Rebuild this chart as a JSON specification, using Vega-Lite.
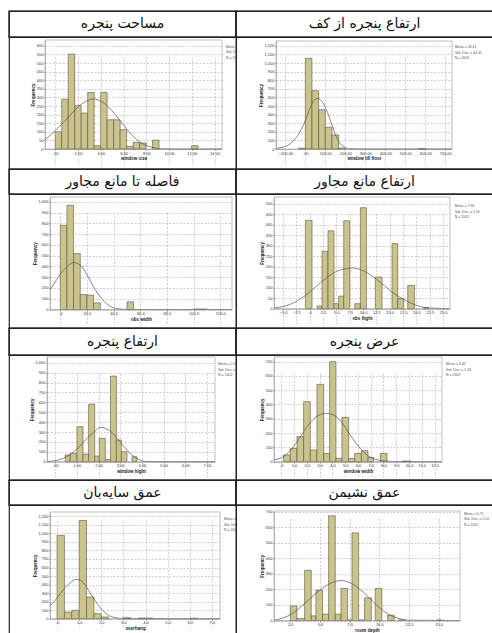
{
"$schema":"https://vega.github.io/schema/vega-lite/v6.json",
"padding":{"left":7,"top":9,"right":0,"bottom":0},
"background":"white",
"columns":2,
"spacing":0,
"bounds":"flush",
"config":{
 "view":{"stroke":"#222","strokeWidth":1.2},
 "concat":{"spacing":0},
 "axis":{"labelFontSize":4,"titleFontSize":4.5,"titleFontWeight":"bold","labelColor":"#333","titleColor":"#222","tickSize":1.5,"tickColor":"#777","tickWidth":0.5,"domainColor":"#999","domainWidth":0.6,"grid":true,"gridColor":"#b0b0b0","gridDash":[2,1.5],"gridWidth":0.6,"labelPadding":0.5,"titlePadding":0.5,"labelFlush":false,"labelOverlap":false,"labelFont":"Liberation Sans","titleFont":"Liberation Sans"}
},
"concat":[
  {"width":227,"height":26,"layer":[
   {"data":{"values":[{"t":"مساحت پنجره"}]},"mark":{"type":"text","fontSize":14,"font":"DejaVu Sans","color":"#111"},"encoding":{"text":{"field":"t"}}},
   {"data":{"values":[{}]},"mark":{"type":"rect","filled":false,"color":"#222","strokeWidth":1.2},"encoding":{"x":{"value":0},"x2":{"value":"width"},"y":{"value":0},"y2":{"value":"height"}}}]},
  {"width":257,"height":26,"layer":[
   {"data":{"values":[{"t":"ارتفاع پنجره از کف"}]},"mark":{"type":"text","fontSize":14,"font":"DejaVu Sans","color":"#111"},"encoding":{"text":{"field":"t"}}},
   {"data":{"values":[{}]},"mark":{"type":"rect","filled":false,"color":"#222","strokeWidth":1.2},"encoding":{"x":{"value":0},"x2":{"value":"width"},"y":{"value":0},"y2":{"value":"height"}}}]},
  {"width":227,"height":132,"layer":[
   {"data":{"values":[{"lo":0,"hi":0.57,"n":100},{"lo":0.57,"hi":1.14,"n":290},{"lo":1.14,"hi":1.71,"n":552},{"lo":1.71,"hi":2.28,"n":252},{"lo":2.28,"hi":2.85,"n":209},{"lo":2.85,"hi":3.42,"n":329},{"lo":3.42,"hi":3.99,"n":19},{"lo":3.99,"hi":4.56,"n":329},{"lo":4.56,"hi":5.13,"n":170},{"lo":5.13,"hi":5.7,"n":170},{"lo":5.7,"hi":6.27,"n":112},{"lo":6.27,"hi":6.84,"n":15},{"lo":6.84,"hi":7.41,"n":39},{"lo":7.41,"hi":7.98,"n":35},{"lo":8.55,"hi":9.12,"n":52},{"lo":11.97,"hi":12.54,"n":19}]},
    "mark":{"type":"rect","fill":"#cbc38e","stroke":"#5a5535","strokeWidth":0.6},
    "encoding":{
     "x":{"field":"lo","type":"quantitative","scale":{"domain":[-0.9,14.65],"range":[36,213],"nice":false,"zero":false},"axis":{"title":"window size","offset":-20,"values":[0,2,4,6,8,10,12,14],"labelExpr":"datum.value == 0 ? '.00' : format(datum.value, '.2f')"}},
     "x2":{"field":"hi"},
     "y":{"field":"n","type":"quantitative","scale":{"domain":[0,634],"range":[112,3],"nice":false},"axis":{"title":"Frequency","offset":-36,"values":[0,50,100,150,200,250,300,350,400,450,500,550,600],"format":",d"}},
     "y2":{"datum":0}}},
   {"data":{"values":[{"x":-0.9,"y":54},{"x":0,"y":107},{"x":0.88,"y":165},{"x":1.76,"y":229},{"x":2.64,"y":275},{"x":3.37,"y":291},{"x":4.1,"y":275},{"x":4.98,"y":223},{"x":5.86,"y":151},{"x":6.73,"y":81},{"x":7.61,"y":33},{"x":8.49,"y":10},{"x":9.37,"y":1},{"x":10.54,"y":0},{"x":14.65,"y":0}]},
    "mark":{"type":"line","color":"#555","strokeWidth":0.7,"interpolate":"monotone"},
    "encoding":{"x":{"field":"x","type":"quantitative","axis":{"title":"window size","offset":-20,"values":[0,2,4,6,8,10,12,14],"labelExpr":"datum.value == 0 ? '.00' : format(datum.value, '.2f')"}},"y":{"field":"y","type":"quantitative","axis":{"title":"Frequency","offset":-36,"values":[0,50,100,150,200,250,300,350,400,450,500,550,600],"format":",d"}}}},
   {"data":{"values":[{}]},"mark":{"type":"rect","filled":false,"color":"#999","strokeWidth":0.6},
    "encoding":{"x":{"datum":-0.9,"axis":{"title":"window size","offset":-20,"values":[0,2,4,6,8,10,12,14],"labelExpr":"datum.value == 0 ? '.00' : format(datum.value, '.2f')"}},"x2":{"datum":14.65},"y":{"datum":0,"axis":{"title":"Frequency","offset":-36,"values":[0,50,100,150,200,250,300,350,400,450,500,550,600],"format":",d"}},"y2":{"datum":634}}},
   {"data":{"values":[{"s":"Mean = 3.37\nStd. Dev. = 2.31\nN = 2002"}]},"mark":{"type":"text","fontSize":3.5,"align":"left","baseline":"top","lineBreak":"\n","clip":true,"color":"#555","font":"Liberation Sans"},
    "encoding":{"x":{"datum":15.0,"axis":{"title":"window size","offset":-20,"values":[0,2,4,6,8,10,12,14],"labelExpr":"datum.value == 0 ? '.00' : format(datum.value, '.2f')"}},"y":{"datum":605,"axis":{"title":"Frequency","offset":-36,"values":[0,50,100,150,200,250,300,350,400,450,500,550,600],"format":",d"}},"text":{"field":"s"}}}
  ]},
  {"width":257,"height":132,"layer":[
   {"data":{"values":[{"lo":-33.3,"hi":0,"n":10},{"lo":0,"hi":33.3,"n":1054},{"lo":33.3,"hi":66.7,"n":678},{"lo":66.7,"hi":100,"n":457},{"lo":100,"hi":133.3,"n":252},{"lo":133.3,"hi":166.7,"n":163},{"lo":166.7,"hi":200,"n":10},{"lo":566.7,"hi":600,"n":5}]},
    "mark":{"type":"rect","fill":"#cbc38e","stroke":"#5a5535","strokeWidth":0.6},
    "encoding":{
     "x":{"field":"lo","type":"quantitative","scale":{"domain":[-146.5,733.5],"range":[40,216],"nice":false,"zero":false},"axis":{"title":"window till floor","offset":-20,"values":[-100,0,100,200,300,400,500,600,700],"labelExpr":"datum.value == 0 ? '.00' : format(datum.value, '.2f')"}},
     "x2":{"field":"hi"},
     "y":{"field":"n","type":"quantitative","scale":{"domain":[0,1256],"range":[112,4],"nice":false},"axis":{"title":"Frequency","offset":-40,"values":[0,100,200,300,400,500,600,700,800,900,1000,1100,1200],"format":",d"}},
     "y2":{"datum":0}}},
   {"data":{"values":[{"x":-146,"y":8},{"x":-133,"y":12},{"x":-100,"y":27},{"x":-67,"y":78},{"x":-33,"y":174},{"x":0,"y":329},{"x":25,"y":484},{"x":58,"y":589},{"x":92,"y":523},{"x":117,"y":388},{"x":142,"y":221},{"x":167,"y":85},{"x":192,"y":27},{"x":217,"y":4},{"x":267,"y":0},{"x":733,"y":0}]},
    "mark":{"type":"line","color":"#555","strokeWidth":0.7,"interpolate":"monotone"},
    "encoding":{"x":{"field":"x","type":"quantitative","axis":{"title":"window till floor","offset":-20,"values":[-100,0,100,200,300,400,500,600,700],"labelExpr":"datum.value == 0 ? '.00' : format(datum.value, '.2f')"}},"y":{"field":"y","type":"quantitative","axis":{"title":"Frequency","offset":-40,"values":[0,100,200,300,400,500,600,700,800,900,1000,1100,1200],"format":",d"}}}},
   {"data":{"values":[{}]},"mark":{"type":"rect","filled":false,"color":"#999","strokeWidth":0.6},
    "encoding":{"x":{"datum":-146.5,"axis":{"title":"window till floor","offset":-20,"values":[-100,0,100,200,300,400,500,600,700],"labelExpr":"datum.value == 0 ? '.00' : format(datum.value, '.2f')"}},"x2":{"datum":733.5},"y":{"datum":0,"axis":{"title":"Frequency","offset":-40,"values":[0,100,200,300,400,500,600,700,800,900,1000,1100,1200],"format":",d"}},"y2":{"datum":1256}}},
   {"data":{"values":[{"s":"Mean = 58.41\nStd. Dev. = 44.32\nN = 2002"}]},"mark":{"type":"text","fontSize":3.5,"align":"left","baseline":"top","lineBreak":"\n","clip":true,"color":"#555","font":"Liberation Sans"},
    "encoding":{"x":{"datum":748,"axis":{"title":"window till floor","offset":-20,"values":[-100,0,100,200,300,400,500,600,700],"labelExpr":"datum.value == 0 ? '.00' : format(datum.value, '.2f')"}},"y":{"datum":1209,"axis":{"title":"Frequency","offset":-40,"values":[0,100,200,300,400,500,600,700,800,900,1000,1100,1200],"format":",d"}},"text":{"field":"s"}}}
  ]},
  {"width":227,"height":25,"layer":[
   {"data":{"values":[{"t":"فاصله تا مانع مجاور"}]},"mark":{"type":"text","fontSize":14,"font":"DejaVu Sans","color":"#111"},"encoding":{"text":{"field":"t"}}},
   {"data":{"values":[{}]},"mark":{"type":"rect","filled":false,"color":"#222","strokeWidth":1.2},"encoding":{"x":{"value":0},"x2":{"value":"width"},"y":{"value":0},"y2":{"value":"height"}}}]},
  {"width":257,"height":25,"layer":[
   {"data":{"values":[{"t":"ارتفاع مانع مجاور"}]},"mark":{"type":"text","fontSize":14,"font":"DejaVu Sans","color":"#111"},"encoding":{"text":{"field":"t"}}},
   {"data":{"values":[{}]},"mark":{"type":"rect","filled":false,"color":"#222","strokeWidth":1.2},"encoding":{"x":{"value":0},"x2":{"value":"width"},"y":{"value":0},"y2":{"value":"height"}}}]},
  {"width":227,"height":134,"layer":[
   {"data":{"values":[{"lo":0,"hi":5,"n":783},{"lo":5,"hi":10,"n":969},{"lo":10,"hi":15,"n":520},{"lo":15,"hi":20,"n":139},{"lo":20,"hi":25,"n":133},{"lo":25,"hi":30,"n":62},{"lo":50,"hi":55,"n":71},{"lo":100,"hi":105,"n":5},{"lo":105,"hi":110,"n":5}]},
    "mark":{"type":"rect","fill":"#cbc38e","stroke":"#5a5535","strokeWidth":0.6},
    "encoding":{
     "x":{"field":"lo","type":"quantitative","scale":{"domain":[-7.7,128.8],"range":[41,223],"nice":false,"zero":false},"axis":{"title":"obs width","offset":-18.5,"values":[0,20,40,60,80,100,120],"labelExpr":"datum.value == 0 ? '.0' : format(datum.value, '.1f')"}},
     "x2":{"field":"hi"},
     "y":{"field":"n","type":"quantitative","scale":{"domain":[0,1046],"range":[115.5,3],"nice":false},"axis":{"title":"Frequency","offset":-41,"values":[0,100,200,300,400,500,600,700,800,900,1000],"format":",d"}},
     "y2":{"datum":0}}},
   {"data":{"values":[{"x":-7.7,"y":180},{"x":-3.75,"y":257},{"x":1.25,"y":350},{"x":6.25,"y":412},{"x":10,"y":437},{"x":15,"y":412},{"x":20,"y":325},{"x":25,"y":211},{"x":30,"y":118},{"x":36.25,"y":40},{"x":42.5,"y":9},{"x":48.75,"y":1},{"x":60,"y":0},{"x":128.8,"y":0}]},
    "mark":{"type":"line","color":"#555","strokeWidth":0.7,"interpolate":"monotone"},
    "encoding":{"x":{"field":"x","type":"quantitative","axis":{"title":"obs width","offset":-18.5,"values":[0,20,40,60,80,100,120],"labelExpr":"datum.value == 0 ? '.0' : format(datum.value, '.1f')"}},"y":{"field":"y","type":"quantitative","axis":{"title":"Frequency","offset":-41,"values":[0,100,200,300,400,500,600,700,800,900,1000],"format":",d"}}}},
   {"data":{"values":[{}]},"mark":{"type":"rect","filled":false,"color":"#999","strokeWidth":0.6},
    "encoding":{"x":{"datum":-7.7,"axis":{"title":"obs width","offset":-18.5,"values":[0,20,40,60,80,100,120],"labelExpr":"datum.value == 0 ? '.0' : format(datum.value, '.1f')"}},"x2":{"datum":128.8},"y":{"datum":0,"axis":{"title":"Frequency","offset":-41,"values":[0,100,200,300,400,500,600,700,800,900,1000],"format":",d"}},"y2":{"datum":1046}}}
  ]},
  {"width":257,"height":134,"layer":[
   {"data":{"values":[{"lo":-0.81,"hi":0.44,"n":421},{"lo":1.38,"hi":2.31,"n":13},{"lo":2.31,"hi":3.44,"n":273},{"lo":3.44,"hi":4.56,"n":371},{"lo":4.56,"hi":5.44,"n":24},{"lo":5.44,"hi":6.38,"n":60},{"lo":6.38,"hi":7.5,"n":419},{"lo":8.44,"hi":9.5,"n":24},{"lo":9.5,"hi":10.63,"n":481},{"lo":12.31,"hi":13.56,"n":151},{"lo":15.44,"hi":16.5,"n":310},{"lo":16.5,"hi":17.63,"n":48},{"lo":18.38,"hi":19.63,"n":111},{"lo":21.4,"hi":22.3,"n":5}]},
    "mark":{"type":"rect","fill":"#cbc38e","stroke":"#5a5535","strokeWidth":0.6},
    "encoding":{
     "x":{"field":"lo","type":"quantitative","scale":{"domain":[-6.69,26.3],"range":[38,214],"nice":false,"zero":false},"axis":{"title":"obs hight","offset":-19.3,"values":[-5,-2.5,0,2.5,5,7.5,10,12.5,15,17.5,20,22.5,25],"labelExpr":"datum.value == 0 ? '.0' : format(datum.value, '.1f')"}},
     "x2":{"field":"hi"},
     "y":{"field":"n","type":"quantitative","scale":{"domain":[0,532],"range":[114.7,3],"nice":false},"axis":{"title":"Frequency","offset":-38,"values":[0,50,100,150,200,250,300,350,400,450,500],"format":",d"}},
     "y2":{"datum":0}}},
   {"data":{"values":[{"x":-6.69,"y":3},{"x":-4.56,"y":13},{"x":-2.69,"y":32},{"x":-0.81,"y":63},{"x":1.06,"y":103},{"x":2.94,"y":143},{"x":4.81,"y":175},{"x":6.69,"y":190},{"x":7.94,"y":194},{"x":9.81,"y":183},{"x":11.69,"y":156},{"x":13.56,"y":119},{"x":15.44,"y":79},{"x":17.31,"y":48},{"x":19.19,"y":24},{"x":21.06,"y":8},{"x":22.94,"y":3},{"x":26.3,"y":0}]},
    "mark":{"type":"line","color":"#555","strokeWidth":0.7,"interpolate":"monotone"},
    "encoding":{"x":{"field":"x","type":"quantitative","axis":{"title":"obs hight","offset":-19.3,"values":[-5,-2.5,0,2.5,5,7.5,10,12.5,15,17.5,20,22.5,25],"labelExpr":"datum.value == 0 ? '.0' : format(datum.value, '.1f')"}},"y":{"field":"y","type":"quantitative","axis":{"title":"Frequency","offset":-38,"values":[0,50,100,150,200,250,300,350,400,450,500],"format":",d"}}}},
   {"data":{"values":[{}]},"mark":{"type":"rect","filled":false,"color":"#999","strokeWidth":0.6},
    "encoding":{"x":{"datum":-6.69,"axis":{"title":"obs hight","offset":-19.3,"values":[-5,-2.5,0,2.5,5,7.5,10,12.5,15,17.5,20,22.5,25],"labelExpr":"datum.value == 0 ? '.0' : format(datum.value, '.1f')"}},"x2":{"datum":26.3},"y":{"datum":0,"axis":{"title":"Frequency","offset":-38,"values":[0,50,100,150,200,250,300,350,400,450,500],"format":",d"}},"y2":{"datum":532}}},
   {"data":{"values":[{"s":"Mean = 7.94\nStd. Dev. = 5.16\nN = 2002"}]},"mark":{"type":"text","fontSize":3.5,"align":"left","baseline":"top","lineBreak":"\n","clip":true,"color":"#555","font":"Liberation Sans"},
    "encoding":{"x":{"datum":27.2,"axis":{"title":"obs hight","offset":-19.3,"values":[-5,-2.5,0,2.5,5,7.5,10,12.5,15,17.5,20,22.5,25],"labelExpr":"datum.value == 0 ? '.0' : format(datum.value, '.1f')"}},"y":{"datum":498,"axis":{"title":"Frequency","offset":-38,"values":[0,50,100,150,200,250,300,350,400,450,500],"format":",d"}},"text":{"field":"s"}}}
  ]},
  {"width":227,"height":27,"layer":[
   {"data":{"values":[{"t":"ارتفاع پنجره"}]},"mark":{"type":"text","fontSize":14,"font":"DejaVu Sans","color":"#111"},"encoding":{"text":{"field":"t"}}},
   {"data":{"values":[{}]},"mark":{"type":"rect","filled":false,"color":"#222","strokeWidth":1.2},"encoding":{"x":{"value":0},"x2":{"value":"width"},"y":{"value":0},"y2":{"value":"height"}}}]},
  {"width":257,"height":27,"layer":[
   {"data":{"values":[{"t":"عرض پنجره"}]},"mark":{"type":"text","fontSize":14,"font":"DejaVu Sans","color":"#111"},"encoding":{"text":{"field":"t"}}},
   {"data":{"values":[{}]},"mark":{"type":"rect","filled":false,"color":"#222","strokeWidth":1.2},"encoding":{"x":{"value":0},"x2":{"value":"width"},"y":{"value":0},"y2":{"value":"height"}}}]},
  {"width":227,"height":125,"layer":[
   {"data":{"values":[{"lo":0.46,"hi":0.69,"n":67},{"lo":0.69,"hi":1.0,"n":84},{"lo":1.0,"hi":1.28,"n":354},{"lo":1.28,"hi":1.54,"n":77},{"lo":1.54,"hi":1.82,"n":582},{"lo":1.82,"hi":2.03,"n":57},{"lo":2.03,"hi":2.31,"n":236},{"lo":2.31,"hi":2.55,"n":24},{"lo":2.55,"hi":2.82,"n":865},{"lo":2.82,"hi":3.05,"n":219},{"lo":3.05,"hi":3.31,"n":101},{"lo":3.54,"hi":3.77,"n":50}]},
    "mark":{"type":"rect","fill":"#cbc38e","stroke":"#5a5535","strokeWidth":0.6},
    "encoding":{
     "x":{"field":"lo","type":"quantitative","scale":{"domain":[-0.38,7.37],"range":[38,206],"nice":false,"zero":false},"axis":{"title":"window hight","offset":-18.3,"values":[0,1,2,3,4,5,6,7],"labelExpr":"datum.value == 0 ? '.00' : format(datum.value, '.2f')"}},
     "x2":{"field":"hi"},
     "y":{"field":"n","type":"quantitative","scale":{"domain":[0,1058],"range":[106.7,2],"nice":false},"axis":{"title":"Frequency","offset":-38,"values":[0,100,200,300,400,500,600,700,800,900,1000],"format":",d"}},
     "y2":{"datum":0}}},
   {"data":{"values":[{"x":-0.38,"y":2},{"x":0.15,"y":17},{"x":0.62,"y":64},{"x":1.08,"y":145},{"x":1.54,"y":253},{"x":1.85,"y":313},{"x":2.08,"y":347},{"x":2.31,"y":337},{"x":2.62,"y":293},{"x":2.92,"y":219},{"x":3.23,"y":135},{"x":3.54,"y":67},{"x":3.85,"y":24},{"x":4.15,"y":3},{"x":4.6,"y":0},{"x":7.37,"y":0}]},
    "mark":{"type":"line","color":"#555","strokeWidth":0.7,"interpolate":"monotone"},
    "encoding":{"x":{"field":"x","type":"quantitative","axis":{"title":"window hight","offset":-18.3,"values":[0,1,2,3,4,5,6,7],"labelExpr":"datum.value == 0 ? '.00' : format(datum.value, '.2f')"}},"y":{"field":"y","type":"quantitative","axis":{"title":"Frequency","offset":-38,"values":[0,100,200,300,400,500,600,700,800,900,1000],"format":",d"}}}},
   {"data":{"values":[{}]},"mark":{"type":"rect","filled":false,"color":"#999","strokeWidth":0.6},
    "encoding":{"x":{"datum":-0.38,"axis":{"title":"window hight","offset":-18.3,"values":[0,1,2,3,4,5,6,7],"labelExpr":"datum.value == 0 ? '.00' : format(datum.value, '.2f')"}},"x2":{"datum":7.37},"y":{"datum":0,"axis":{"title":"Frequency","offset":-38,"values":[0,100,200,300,400,500,600,700,800,900,1000],"format":",d"}},"y2":{"datum":1058}}},
   {"data":{"values":[{"s":"Mean = 2.08\nStd. Dev. = .62\nN = 2002"}]},"mark":{"type":"text","fontSize":3.5,"align":"left","baseline":"top","lineBreak":"\n","clip":true,"color":"#555","font":"Liberation Sans"},
    "encoding":{"x":{"datum":7.51,"axis":{"title":"window hight","offset":-18.3,"values":[0,1,2,3,4,5,6,7],"labelExpr":"datum.value == 0 ? '.00' : format(datum.value, '.2f')"}},"y":{"datum":1007,"axis":{"title":"Frequency","offset":-38,"values":[0,100,200,300,400,500,600,700,800,900,1000],"format":",d"}},"text":{"field":"s"}}}
  ]},
  {"width":257,"height":125,"layer":[
   {"data":{"values":[{"lo":0.18,"hi":0.7,"n":47},{"lo":0.7,"hi":1.23,"n":93},{"lo":1.23,"hi":1.75,"n":175},{"lo":1.75,"hi":2.27,"n":420},{"lo":2.27,"hi":2.79,"n":82},{"lo":2.79,"hi":3.32,"n":541},{"lo":3.32,"hi":3.79,"n":58},{"lo":3.79,"hi":4.28,"n":699},{"lo":4.28,"hi":4.75,"n":23},{"lo":4.75,"hi":5.27,"n":310},{"lo":5.27,"hi":5.74,"n":23},{"lo":5.74,"hi":6.27,"n":58},{"lo":6.27,"hi":6.79,"n":77},{"lo":6.79,"hi":7.23,"n":30},{"lo":7.75,"hi":8.28,"n":58},{"lo":9.45,"hi":10.2,"n":5}]},
    "mark":{"type":"rect","fill":"#cbc38e","stroke":"#5a5535","strokeWidth":0.6},
    "encoding":{
     "x":{"field":"lo","type":"quantitative","scale":{"domain":[-0.57,12.58],"range":[38,206],"nice":false,"zero":false},"axis":{"title":"window width","offset":-18.3,"values":[0,1,2,3,4,5,6,7,8,9,10,11,12],"labelExpr":"datum.value == 0 ? '.0' : format(datum.value, '.1f')"}},
     "x2":{"field":"hi"},
     "y":{"field":"n","type":"quantitative","scale":{"domain":[0,732],"range":[106.7,2],"nice":false},"axis":{"title":"Frequency","offset":-38,"values":[0,100,200,300,400,500,600,700],"format":",d"}},
     "y2":{"datum":0}}},
   {"data":{"values":[{"x":-0.57,"y":12},{"x":0.05,"y":30},{"x":0.7,"y":77},{"x":1.36,"y":156},{"x":2.01,"y":245},{"x":2.66,"y":308},{"x":3.45,"y":338},{"x":4.1,"y":326},{"x":4.75,"y":273},{"x":5.4,"y":186},{"x":6.06,"y":105},{"x":6.71,"y":47},{"x":7.36,"y":16},{"x":8.15,"y":5},{"x":8.93,"y":1},{"x":12.58,"y":0}]},
    "mark":{"type":"line","color":"#555","strokeWidth":0.7,"interpolate":"monotone"},
    "encoding":{"x":{"field":"x","type":"quantitative","axis":{"title":"window width","offset":-18.3,"values":[0,1,2,3,4,5,6,7,8,9,10,11,12],"labelExpr":"datum.value == 0 ? '.0' : format(datum.value, '.1f')"}},"y":{"field":"y","type":"quantitative","axis":{"title":"Frequency","offset":-38,"values":[0,100,200,300,400,500,600,700],"format":",d"}}}},
   {"data":{"values":[{}]},"mark":{"type":"rect","filled":false,"color":"#999","strokeWidth":0.6},
    "encoding":{"x":{"datum":-0.57,"axis":{"title":"window width","offset":-18.3,"values":[0,1,2,3,4,5,6,7,8,9,10,11,12],"labelExpr":"datum.value == 0 ? '.0' : format(datum.value, '.1f')"}},"x2":{"datum":12.58},"y":{"datum":0,"axis":{"title":"Frequency","offset":-38,"values":[0,100,200,300,400,500,600,700],"format":",d"}},"y2":{"datum":732}}},
   {"data":{"values":[{"s":"Mean = 3.45\nStd. Dev. = 1.53\nN = 2002"}]},"mark":{"type":"text","fontSize":3.5,"align":"left","baseline":"top","lineBreak":"\n","clip":true,"color":"#555","font":"Liberation Sans"},
    "encoding":{"x":{"datum":12.9,"axis":{"title":"window width","offset":-18.3,"values":[0,1,2,3,4,5,6,7,8,9,10,11,12],"labelExpr":"datum.value == 0 ? '.0' : format(datum.value, '.1f')"}},"y":{"datum":697,"axis":{"title":"Frequency","offset":-38,"values":[0,100,200,300,400,500,600,700],"format":",d"}},"text":{"field":"s"}}}
  ]},
  {"width":227,"height":25,"layer":[
   {"data":{"values":[{"t":"عمق سایه‌بان"}]},"mark":{"type":"text","fontSize":14,"font":"DejaVu Sans","color":"#111"},"encoding":{"text":{"field":"t"}}},
   {"data":{"values":[{}]},"mark":{"type":"rect","filled":false,"color":"#222","strokeWidth":1.2},"encoding":{"x":{"value":0},"x2":{"value":"width"},"y":{"value":0},"y2":{"value":"height"}}}]},
  {"width":257,"height":25,"layer":[
   {"data":{"values":[{"t":"عمق نشیمن"}]},"mark":{"type":"text","fontSize":14,"font":"DejaVu Sans","color":"#111"},"encoding":{"text":{"field":"t"}}},
   {"data":{"values":[{}]},"mark":{"type":"rect","filled":false,"color":"#222","strokeWidth":1.2},"encoding":{"x":{"value":0},"x2":{"value":"width"},"y":{"value":0},"y2":{"value":"height"}}}]},
  {"width":227,"height":129,"layer":[
   {"data":{"values":[{"lo":0,"hi":0.333,"n":977},{"lo":0.333,"hi":0.667,"n":78},{"lo":0.667,"hi":1.0,"n":98},{"lo":1.0,"hi":1.333,"n":1152},{"lo":1.333,"hi":1.667,"n":254},{"lo":1.667,"hi":2.0,"n":59},{"lo":2.0,"hi":2.333,"n":20},{"lo":3.0,"hi":3.333,"n":12},{"lo":3.667,"hi":4.0,"n":8},{"lo":4.0,"hi":4.333,"n":8},{"lo":6.0,"hi":6.333,"n":6}]},
    "mark":{"type":"rect","fill":"#cbc38e","stroke":"#5a5535","strokeWidth":0.6},
    "encoding":{
     "x":{"field":"lo","type":"quantitative","scale":{"domain":[-0.32,7.37],"range":[41,211],"nice":false,"zero":false},"axis":{"title":"overhang","offset":-15.3,"values":[0,1,2,3,4,5,6,7],"labelExpr":"datum.value == 0 ? '.0' : format(datum.value, '.1f')"}},
     "x2":{"field":"hi"},
     "y":{"field":"n","type":"quantitative","scale":{"domain":[0,1251],"range":[113.7,7],"nice":false},"axis":{"title":"Frequency","offset":-41,"values":[0,100,200,300,400,500,600,700,800,900,1000,1100,1200],"format":",d"}},
     "y2":{"datum":0}}},
   {"data":{"values":[{"x":-0.32,"y":150},{"x":0,"y":242},{"x":0.3,"y":344},{"x":0.6,"y":422},{"x":0.86,"y":461},{"x":1.13,"y":437},{"x":1.43,"y":332},{"x":1.73,"y":207},{"x":2.03,"y":105},{"x":2.33,"y":39},{"x":2.64,"y":12},{"x":3.09,"y":1},{"x":4,"y":0},{"x":7.37,"y":0}]},
    "mark":{"type":"line","color":"#555","strokeWidth":0.7,"interpolate":"monotone"},
    "encoding":{"x":{"field":"x","type":"quantitative","axis":{"title":"overhang","offset":-15.3,"values":[0,1,2,3,4,5,6,7],"labelExpr":"datum.value == 0 ? '.0' : format(datum.value, '.1f')"}},"y":{"field":"y","type":"quantitative","axis":{"title":"Frequency","offset":-41,"values":[0,100,200,300,400,500,600,700,800,900,1000,1100,1200],"format":",d"}}}},
   {"data":{"values":[{}]},"mark":{"type":"rect","filled":false,"color":"#999","strokeWidth":0.6},
    "encoding":{"x":{"datum":-0.32,"axis":{"title":"overhang","offset":-15.3,"values":[0,1,2,3,4,5,6,7],"labelExpr":"datum.value == 0 ? '.0' : format(datum.value, '.1f')"}},"x2":{"datum":7.37},"y":{"datum":0,"axis":{"title":"Frequency","offset":-41,"values":[0,100,200,300,400,500,600,700,800,900,1000,1100,1200],"format":",d"}},"y2":{"datum":1251}}},
   {"data":{"values":[{"s":"Mean = .86\nStd. Dev. = .58\nN = 2002"}]},"mark":{"type":"text","fontSize":3.5,"align":"left","baseline":"top","lineBreak":"\n","clip":true,"color":"#555","font":"Liberation Sans"},
    "encoding":{"x":{"datum":7.55,"axis":{"title":"overhang","offset":-15.3,"values":[0,1,2,3,4,5,6,7],"labelExpr":"datum.value == 0 ? '.0' : format(datum.value, '.1f')"}},"y":{"datum":1192,"axis":{"title":"Frequency","offset":-41,"values":[0,100,200,300,400,500,600,700,800,900,1000,1100,1200],"format":",d"}},"text":{"field":"s"}}}
  ]},
  {"width":257,"height":129,"layer":[
   {"data":{"values":[{"lo":2.5,"hi":3.06,"n":94},{"lo":3.06,"hi":3.71,"n":13},{"lo":3.71,"hi":4.27,"n":324},{"lo":4.27,"hi":4.66,"n":30},{"lo":4.66,"hi":5.22,"n":195},{"lo":5.22,"hi":5.73,"n":41},{"lo":5.73,"hi":6.29,"n":674},{"lo":6.29,"hi":6.77,"n":41},{"lo":6.77,"hi":7.33,"n":206},{"lo":7.33,"hi":7.7,"n":4},{"lo":7.7,"hi":8.26,"n":564},{"lo":8.26,"hi":8.76,"n":4},{"lo":8.76,"hi":9.33,"n":146},{"lo":9.66,"hi":10.22,"n":206},{"lo":10.7,"hi":11.26,"n":34},{"lo":11.63,"hi":12.19,"n":4},{"lo":14.86,"hi":15.28,"n":4}]},
    "mark":{"type":"rect","fill":"#cbc38e","stroke":"#5a5535","strokeWidth":0.6},
    "encoding":{
     "x":{"field":"lo","type":"quantitative","scale":{"domain":[1.13,16.8],"range":[38,224],"nice":false,"zero":false},"axis":{"title":"room depth","offset":-13.5,"values":[2.5,5,7.5,10,12.5,15],"format":".1f"}},
     "x2":{"field":"hi"},
     "y":{"field":"n","type":"quantitative","scale":{"domain":[0,705],"range":[115.5,6],"nice":false},"axis":{"title":"Frequency","offset":-38,"values":[0,100,200,300,400,500,600,700],"format":",d"}},
     "y2":{"datum":0}}},
   {"data":{"values":[{"x":1.13,"y":2},{"x":2.08,"y":21},{"x":2.92,"y":58},{"x":3.76,"y":112},{"x":4.61,"y":172},{"x":5.45,"y":221},{"x":6.29,"y":251},{"x":6.71,"y":258},{"x":7.42,"y":247},{"x":8.26,"y":208},{"x":9.1,"y":150},{"x":9.94,"y":88},{"x":10.79,"y":39},{"x":11.63,"y":13},{"x":12.47,"y":2},{"x":16.8,"y":0}]},
    "mark":{"type":"line","color":"#555","strokeWidth":0.7,"interpolate":"monotone"},
    "encoding":{"x":{"field":"x","type":"quantitative","axis":{"title":"room depth","offset":-13.5,"values":[2.5,5,7.5,10,12.5,15],"format":".1f"}},"y":{"field":"y","type":"quantitative","axis":{"title":"Frequency","offset":-38,"values":[0,100,200,300,400,500,600,700],"format":",d"}}}},
   {"data":{"values":[{}]},"mark":{"type":"rect","filled":false,"color":"#999","strokeWidth":0.6},
    "encoding":{"x":{"datum":1.13,"axis":{"title":"room depth","offset":-13.5,"values":[2.5,5,7.5,10,12.5,15],"format":".1f"}},"x2":{"datum":16.8},"y":{"datum":0,"axis":{"title":"Frequency","offset":-38,"values":[0,100,200,300,400,500,600,700],"format":",d"}},"y2":{"datum":705}}},
   {"data":{"values":[{"s":"Mean = 6.71\nStd. Dev. = 2.14\nN = 2002"}]},"mark":{"type":"text","fontSize":3.5,"align":"left","baseline":"top","lineBreak":"\n","clip":true,"color":"#555","font":"Liberation Sans"},
    "encoding":{"x":{"datum":17.14,"axis":{"title":"room depth","offset":-13.5,"values":[2.5,5,7.5,10,12.5,15],"format":".1f"}},"y":{"datum":699,"axis":{"title":"Frequency","offset":-38,"values":[0,100,200,300,400,500,600,700],"format":",d"}},"text":{"field":"s"}}}
  ]}
]
}
